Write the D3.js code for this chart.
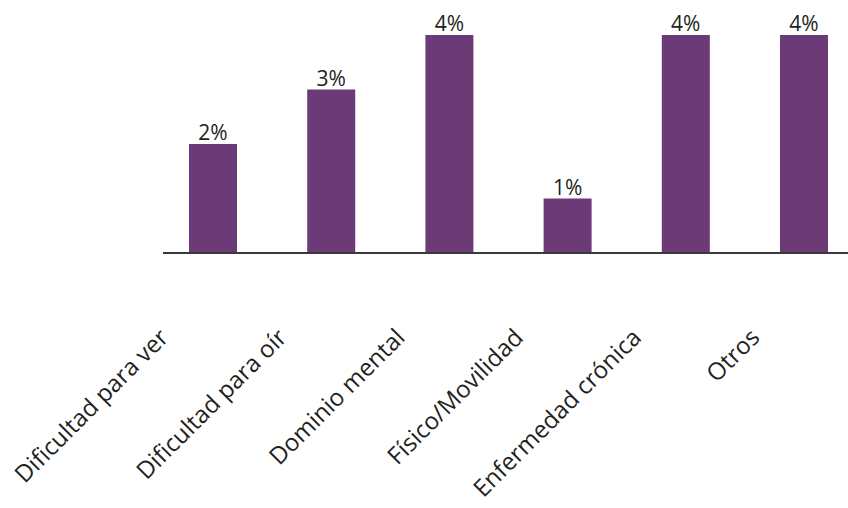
<!DOCTYPE html>
<html>
<head>
<meta charset="utf-8">
<script src="https://cdn.jsdelivr.net/npm/d3@7"></script>
<style>
  html, body { margin: 0; padding: 0; background: #fff; }
  svg { display: block; }
</style>
</head>
<body>
<svg id="chart" width="848" height="508"></svg>
<script>
const categories = ["Dificultad para ver", "Dificultad para oír", "Dominio mental", "Físico/Movilidad", "Enfermedad crónica", "Otros"];
const values = [2, 3, 4, 1, 4, 4];
const valueLabels = ["2%", "3%", "4%", "1%", "4%", "4%"];

const svg = d3.select("#chart");
const baseY = 253;
const font = "'Open Sans', 'Noto Sans', sans-serif";

const x = d3.scaleBand()
  .domain(categories)
  .range([163, 854])
  .paddingInner(0.594)
  .paddingOuter(0.22);

const y = d3.scaleLinear().domain([0, 4]).range([baseY, 35]);

svg.selectAll("rect.bar")
  .data(values)
  .join("rect")
  .attr("class", "bar")
  .attr("x", (d, i) => x(categories[i]))
  .attr("width", x.bandwidth())
  .attr("y", d => y(d))
  .attr("height", d => y(0) - y(d))
  .attr("fill", "#6b3a77");

svg.selectAll("text.val")
  .data(values)
  .join("text")
  .attr("class", "val")
  .attr("x", (d, i) => x(categories[i]) + x.bandwidth() / 2)
  .attr("y", d => y(d) - 4)
  .attr("text-anchor", "middle")
  .attr("font-family", font)
  .attr("font-size", 21)
  .attr("fill", "#231f20")
  .text((d, i) => valueLabels[i]);

// axis baseline
svg.append("line")
  .attr("x1", 163).attr("x2", 848)
  .attr("y1", baseY).attr("y2", baseY)
  .attr("stroke", "#3a3a3a")
  .attr("stroke-width", 2);

// category labels, rotated -45
svg.selectAll("text.cat")
  .data(categories)
  .join("text")
  .attr("class", "cat")
  .attr("transform", d => `translate(${x(d) + x.bandwidth() / 2 - 43},${baseY + 86}) rotate(-45)`)
  .attr("text-anchor", "end")
  .attr("font-family", font)
  .attr("font-size", 24)
  .attr("fill", "#231f20")
  .text(d => d);
</script>
</body>
</html>
